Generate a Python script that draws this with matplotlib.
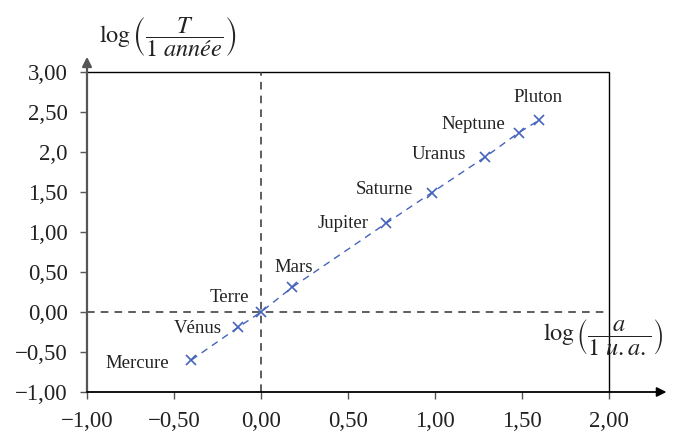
import numpy as np
import matplotlib.pyplot as plt

plt.rcParams['font.family'] = ['Liberation Serif', 'DejaVu Serif']
plt.rcParams['mathtext.fontset'] = 'stix'

# données : log(a / 1 u.a.) et log(T / 1 année)
planetes = ['Mercure', 'Vénus', 'Terre', 'Mars', 'Jupiter',
            'Saturne', 'Uranus', 'Neptune', 'Pluton']
log_a = [-0.40, -0.13, 0.00, 0.18, 0.72, 0.98, 1.29, 1.48, 1.60]
log_T = [-0.60, -0.19, 0.00, 0.31, 1.11, 1.49, 1.94, 2.24, 2.40]

x_ticks = [-1.0, -0.5, 0.0, 0.5, 1.0, 1.5, 2.0]
x_labels = ['−1,00', '−0,50', '0,00', '0,50', '1,00', '1,50', '2,00']
y_ticks = [-1.0, -0.5, 0.0, 0.5, 1.0, 1.5, 2.0, 2.5, 3.0]
y_labels = ['−1,00', '−0,50', '0,00', '0,50', '1,00', '1,50', '2,0', '2,50', '3,00']

# décalage des étiquettes (pixels) et alignement
label_offsets = {'Mercure': (-22, -3, 'right'), 'Vénus': (-17, -1, 'right'),
                 'Terre': (-12, 15, 'right'), 'Mars': (1, 20, 'center'),
                 'Jupiter': (-18, 0, 'right'), 'Saturne': (-18, 3, 'right'),
                 'Uranus': (-20, 2, 'right'), 'Neptune': (-13, 8, 'right'),
                 'Pluton': (-1, 23, 'center')}

fig = plt.figure(figsize=(6.76, 4.37), dpi=100)
ax = fig.add_axes([87/676, 45/437, 522/676, 320/437])
ax.set_xlim(-1, 2)
ax.set_ylim(-1, 3)
for s in ax.spines.values():
    s.set_visible(False)

blue = '#4463bd'
axis_col = '#555555'

# cadre haut et droit
ax.plot([-1, 2, 2], [3, 3, -1], color='black', lw=1.0, clip_on=False)
# axes avec flèches
ax.annotate('', xy=(-1, 3.19), xytext=(-1, -1),
            arrowprops=dict(arrowstyle='-|>', color=axis_col, lw=1.6,
                            mutation_scale=14, shrinkA=0, shrinkB=0),
            annotation_clip=False)
ax.annotate('', xy=(2.33, -1), xytext=(-1, -1),
            arrowprops=dict(arrowstyle='-|>', color='black', lw=1.3,
                            mutation_scale=14, shrinkA=0, shrinkB=0),
            annotation_clip=False)

# repères en pointillés
ax.plot([0, 0], [-1, 3], color='#333333', lw=1.1, ls=(0, (5, 4)))
ax.plot([-1, 2], [0, 0], color='#333333', lw=1.1, ls=(0, (5, 4)))

ax.plot(log_a, log_T, color=blue, lw=1.0, ls=(0, (5, 4)),
        marker='x', ms=7, mew=1.2)

for nom, xa, yt in zip(planetes, log_a, log_T):
    dx, dy, ha = label_offsets[nom]
    ax.annotate(nom, xy=(xa, yt), xytext=(dx, dy), textcoords='offset pixels',
                ha=ha, va='center', fontsize=13.5, color='#222222')

ax.set_xticks(x_ticks)
ax.set_xticklabels(x_labels)
ax.set_yticks(y_ticks)
ax.set_yticklabels(y_labels)
ax.tick_params(axis='both', direction='out', length=5, width=1.0,
               color=axis_col, labelsize=16.5, labelcolor='#222222')
ax.tick_params(axis='x', pad=9)
ax.tick_params(axis='y', pad=9)

ax.text(-0.93, 3.43, r'$\log\left(\dfrac{T}{1\ \mathit{année}}\right)$',
        fontsize=17.5, ha='left', va='center', color='#222222')
ax.text(1.965, -0.31, r'$\log\left(\dfrac{a}{1\ \mathit{u.a.}}\right)$',
        fontsize=17.5, ha='center', va='center', color='#222222')

fig.savefig('out.png', dpi=100)
